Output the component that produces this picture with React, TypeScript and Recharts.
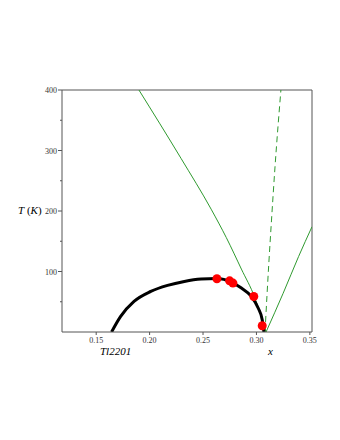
import { ComposedChart, Line, Scatter, XAxis, YAxis, ReferenceLine } from 'recharts'

// dome of Tc(x)
const domeX = [0.1644, 0.1729, 0.1854, 0.2011, 0.2168, 0.2325, 0.2482, 0.263, 0.2765, 0.2859, 0.2953, 0.3016, 0.3054, 0.307]
const domeT = [0, 25.7, 50.5, 67, 77, 83.5, 87.5, 88.5, 82.5, 72.6, 58.7, 39.6, 20.3, 0]

// green crossover lines
const leftX = [0.19, 0.2294, 0.2576, 0.2718, 0.2859, 0.2984, 0.3047, 0.309]
const leftT = [400, 287, 203, 156, 104, 57, 24, 0]
const dashX = [0.308, 0.3116, 0.3141, 0.3173, 0.3229]
const dashT = [0, 114, 185, 271, 400]
const rightX = [0.309, 0.325, 0.3395, 0.352]
const rightT = [0, 64, 125, 174]

// measured points
const dotX = [0.263, 0.2749, 0.278, 0.2975, 0.3054]
const dotT = [88, 84.6, 80.8, 58.7, 10.4]

const xTicks = [0.15, 0.2, 0.25, 0.3, 0.35]
const yTicks = [50, 100, 150, 200, 250, 300, 350, 400]

const pts = (xs: number[], ts: number[]) => xs.map((x, i) => ({ x, T: ts[i] }))

const SERIF = 'Liberation Serif, Times New Roman, serif'
const AXIS = '#555'
const GREEN = '#2f9a2f'

const YTick = ({ x, y, payload }: any) => {
  const major = payload.value % 100 === 0
  return (
    <g>
      <line x1={x - (major ? 4 : 2)} x2={x} y1={y} y2={y} stroke={AXIS} />
      {major && (
        <text x={x - 5} y={y + 3} textAnchor="end" style={{ fontSize: 8, fontFamily: SERIF }} fill="#333">
          {payload.value}
        </text>
      )}
    </g>
  )
}

const XTick = ({ x, y, payload }: any) => (
  <g>
    <line x1={x} x2={x} y1={y} y2={y + 3} stroke={AXIS} />
    <text x={x} y={y + 11} textAnchor="middle" style={{ fontSize: 8, fontFamily: SERIF }} fill="#333">
      {payload.value.toFixed(2)}
    </text>
  </g>
)

export default function App() {
  return (
    <div style={{ position: 'absolute', left: 0, top: 0, width: 340, height: 440, background: '#fff' }}>
      <ComposedChart width={340} height={440} margin={{ top: 90, right: 28, bottom: 0, left: 0 }}>
        <XAxis
          type="number"
          dataKey="x"
          domain={[0.118, 0.352]}
          ticks={xTicks}
          allowDataOverflow
          height={108}
          tickSize={0}
          tickMargin={0}
          tick={<XTick />}
          stroke={AXIS}
        />
        <YAxis
          type="number"
          dataKey="T"
          domain={[0, 400]}
          ticks={yTicks}
          allowDataOverflow
          width={62}
          tickSize={0}
          tickMargin={0}
          tick={<YTick />}
          stroke={AXIS}
        />
        <ReferenceLine y={400} stroke={AXIS} />
        <ReferenceLine x={0.352} stroke={AXIS} />
        <Line data={pts(leftX, leftT)} dataKey="T" type="monotone" stroke={GREEN} strokeWidth={1} dot={false} isAnimationActive={false} />
        <Line data={pts(dashX, dashT)} dataKey="T" type="monotone" stroke={GREEN} strokeWidth={1} strokeDasharray="6 4" dot={false} isAnimationActive={false} />
        <Line data={pts(rightX, rightT)} dataKey="T" type="monotone" stroke={GREEN} strokeWidth={1} dot={false} isAnimationActive={false} />
        <Line data={pts(domeX, domeT)} dataKey="T" type="monotone" stroke="#000" strokeWidth={3} dot={false} isAnimationActive={false} />
        <Scatter
          data={pts(dotX, dotT)}
          dataKey="T"
          isAnimationActive={false}
          shape={(p: any) => <circle cx={p.cx} cy={p.cy} r={4.5} fill="#ff0000" />}
        />
      </ComposedChart>
      <svg width={340} height={440} style={{ position: 'absolute', left: 0, top: 0, pointerEvents: 'none' }}>
        <text x={18} y={214} style={{ fontSize: 11, fontFamily: SERIF }} fill="#000">
          <tspan fontStyle="italic">T</tspan>
          <tspan> (</tspan>
          <tspan fontStyle="italic">K</tspan>
          <tspan>)</tspan>
        </text>
        <text x={100} y={355} style={{ fontSize: 11, fontFamily: SERIF, fontStyle: 'italic' }} fill="#000">Tl2201</text>
        <text x={268} y={355} style={{ fontSize: 11, fontFamily: SERIF, fontStyle: 'italic' }} fill="#000">x</text>
      </svg>
    </div>
  )
}
